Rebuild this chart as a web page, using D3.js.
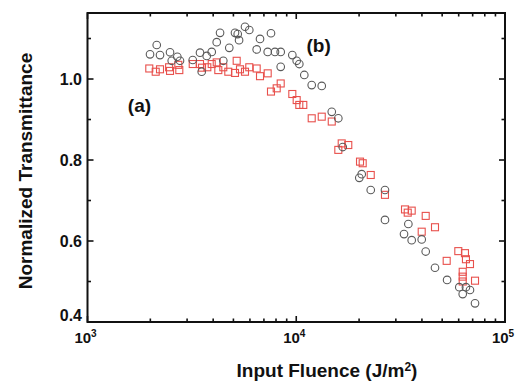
<!DOCTYPE html>
<html><head><meta charset="utf-8">
<script src="https://cdn.jsdelivr.net/npm/d3@7"></script>
<style>body{margin:0;background:#fff}svg{display:block}text{font-family:"Liberation Sans",Arial,sans-serif}</style>
</head><body><svg id="c" width="520" height="384"></svg>
<script>
// Series (b): gray circles  [fluence J/m^2, normalized transmittance]
const circleX = [1993,2146,2225,2485,2532,2693,2774,3192,3459,3524,3724,3936,4159,4315,4472,4777,5088,5243,5322,5682,5957,6463,6705,7298,7568,7909,8424,8424,9575,10048,10342,10928,11859,13246,14794,15904,16700,20584,20045,22741,26610,26610,34435,32828,35727,39900,41700,46200,52800,60400,65000,67960,62720,71840];
const circleY = [1.061,1.084,1.059,1.066,1.045,1.055,1.045,1.047,1.065,1.018,1.057,1.067,1.091,1.114,1.045,1.077,1.114,1.111,1.096,1.129,1.121,1.073,1.099,1.067,1.113,1.067,1.067,1.030,1.059,1.045,1.037,1.010,0.985,0.983,0.919,0.903,0.832,0.765,0.756,0.726,0.726,0.652,0.642,0.617,0.602,0.604,0.574,0.534,0.504,0.486,0.486,0.479,0.469,0.446];
// Series (a): red squares
const squareX = [1977,2122,2225,2485,2460,2753,2723,3192,3459,3537,3750,3936,4159,4233,4472,4726,5088,5184,5377,5682,5957,6463,6705,7298,7568,8060,8424,9575,10048,10342,10808,11859,13246,14794,16511,17752,15904,20205,20810,22741,26610,33190,34200,35727,41700,46200,39900,52560,59750,64300,65000,67960,62720,62720,62720,71840];
const squareY = [1.026,1.018,1.024,1.020,1.029,1.022,1.035,1.037,1.037,1.028,1.029,1.037,1.041,1.022,1.029,1.018,1.015,1.045,1.024,1.018,1.029,1.026,1.007,1.014,0.969,0.977,0.989,0.963,0.948,0.936,0.936,0.903,0.907,0.895,0.841,0.837,0.825,0.796,0.792,0.763,0.714,0.678,0.670,0.675,0.662,0.634,0.623,0.551,0.575,0.570,0.555,0.543,0.524,0.512,0.500,0.502];
const yMajor = [0.4,0.6,0.8,1.0];
const yMinor = [0.5,0.7,0.9,1.1];
const xMajor = [1e3,1e4,1e5];
const xMajorLabels = ["3","4","5"];
const xTitle = "Input Fluence (J/m";
const yTitle = "Normalized Transmittance";
const panelLabels = [{t:"(a)",x:1560,y:0.918},{t:"(b)",x:11200,y:1.066}];

const svg = d3.select("#c");
const L=87.5,R=505,T=13,B=322;
const x = d3.scaleLog().domain([1e3,1e5]).range([L,R]);
const y = d3.scaleLinear().domain([0.4,1.163]).range([B,T]);
const xMinor = [];
for (let d=1e3; d<1e5; d*=10) for (let k=2;k<=9;k++) xMinor.push(d*k);

const g = svg.append("g");
function tick(x1,y1,x2,y2){g.append("line").attr("x1",x1).attr("y1",y1).attr("x2",x2).attr("y2",y2).attr("stroke","#111").attr("stroke-width",1.6);}
yMajor.forEach(v=>{tick(L,y(v),L+6,y(v));tick(R,y(v),R-6,y(v));});
yMinor.forEach(v=>{tick(L,y(v),L+3.5,y(v));tick(R,y(v),R-3.5,y(v));});
xMajor.forEach(v=>{tick(x(v),B,x(v),B-6);tick(x(v),T,x(v),T+6);});
xMinor.forEach(v=>{tick(x(v),B,x(v),B-3.5);tick(x(v),T,x(v),T+3.5);});
g.append("rect").attr("x",L).attr("y",T).attr("width",R-L).attr("height",B-T).attr("fill","none").attr("stroke","#111").attr("stroke-width",2);

const circ = circleX.map((d,i)=>[d,circleY[i]]);
const sq = squareX.map((d,i)=>[d,squareY[i]]);
g.selectAll("rect.sq").data(sq).enter().append("rect").attr("class","sq")
  .attr("x",d=>x(d[0])-3.5).attr("y",d=>y(d[1])-3.5).attr("width",7).attr("height",7)
  .attr("fill","none").attr("stroke","#e8504c").attr("stroke-width",1.1);
g.selectAll("circle").data(circ).enter().append("circle")
  .attr("cx",d=>x(d[0])).attr("cy",d=>y(d[1])).attr("r",3.8)
  .attr("fill","none").attr("stroke","#5a5a5a").attr("stroke-width",1.1);

yMajor.forEach(v=>{
  svg.append("text").attr("x",82).attr("y",y(v)+(v===0.4?-1:5.5)).attr("text-anchor","end")
    .attr("font-size",16).attr("font-weight","bold").attr("fill","#111").text(v.toFixed(1));
});
xMajor.forEach((v,i)=>{
  const t = svg.append("text").attr("x",x(v)-2).attr("y",343).attr("text-anchor","middle")
    .attr("font-size",15).attr("font-weight","bold").attr("fill","#111");
  t.append("tspan").text("10");
  t.append("tspan").attr("dy",-6).attr("font-size",10).text(xMajorLabels[i]);
});
const xt = svg.append("text").attr("x",327).attr("y",377).attr("text-anchor","middle")
  .attr("font-size",19).attr("font-weight","bold").attr("fill","#111");
xt.append("tspan").text(xTitle);
xt.append("tspan").attr("dy",-6).attr("font-size",12).text("2");
xt.append("tspan").attr("dy",6).text(")");
svg.append("text").attr("transform","translate(32,171) rotate(-90)").attr("text-anchor","middle")
  .attr("font-size",19).attr("font-weight","bold").attr("fill","#111").text(yTitle);
panelLabels.forEach(p=>{
  svg.append("text").attr("x",x(p.x)).attr("y",y(p.y)).attr("font-size",19).attr("font-weight","bold").attr("fill","#111").text(p.t);
});
</script></body></html>
